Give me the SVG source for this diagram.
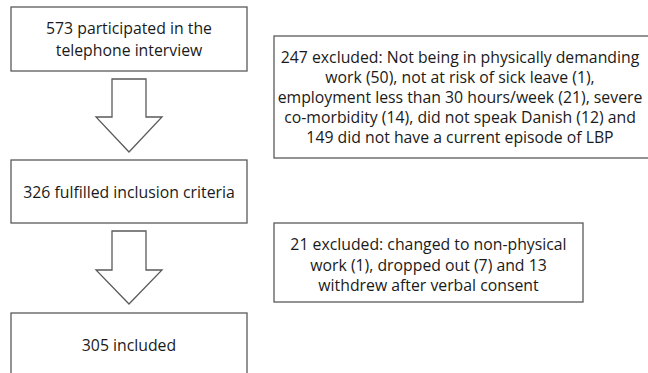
<svg xmlns="http://www.w3.org/2000/svg" width="648" height="373" viewBox="0 0 648 373">
<style>
.box{fill:#fff;stroke:#5a5a5a;stroke-width:1.3}
.arr{fill:#fff;stroke:#5a5a5a;stroke-width:1.3;stroke-linejoin:miter}
text{font-family:"Open Sans","Liberation Sans",sans-serif;font-size:15.8px;fill:#1a1a1a;text-anchor:middle;dominant-baseline:central}
</style>
<rect width="648" height="373" fill="#fff"/>
<g id="n1">
<rect class="box" x="11" y="7" width="236" height="64"/>
<text x="129" y="28">573 participated in the</text>
<text x="129" y="50">telephone interview</text>
</g>
<g id="n2">
<rect class="box" x="11" y="160" width="236" height="63"/>
<text x="129" y="192">326 fulfilled inclusion criteria</text>
</g>
<g id="n3">
<rect class="box" x="11" y="313" width="236" height="70"/>
<text x="129" y="345">305 included</text>
</g>
<g id="n4">
<rect class="box" x="274" y="36" width="380" height="122"/>
<text x="460" y="57">247 excluded: Not being in physically demanding</text>
<text x="460" y="77">work (50), not at risk of sick leave (1),</text>
<text x="460" y="97">employment less than 30 hours/week (21), severe</text>
<text x="460" y="117">co-morbidity (14), did not speak Danish (12) and</text>
<text x="460" y="137">149 did not have a current episode of LBP</text>
</g>
<g id="n5">
<rect class="box" x="274" y="223" width="309" height="79"/>
<text x="428.5" y="244">21 excluded: changed to non-physical</text>
<text x="428.5" y="264.5">work (1), dropped out (7) and 13</text>
<text x="428.5" y="285">withdrew after verbal consent</text>
</g>
<g id="connectors">
<polygon class="arr" points="112,79 146,79 146,117 162,117 129,152 96,117 112,117"/>
<polygon class="arr" points="112,231 146,231 146,270 162,270 129,304 96,270 112,270"/>
</g>
</svg>
